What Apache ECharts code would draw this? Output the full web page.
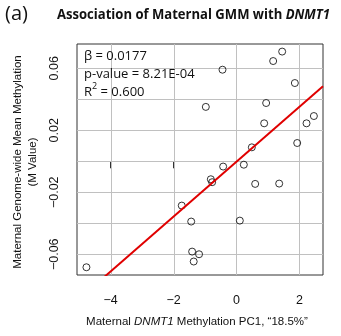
<!DOCTYPE html>
<html>
<head>
<meta charset="utf-8">
<script src="https://cdn.jsdelivr.net/npm/echarts@6/dist/echarts.min.js"></script>
<style>
  html, body { margin: 0; padding: 0; background: #fff; }
  #chart { width: 341px; height: 336px; }
</style>
</head>
<body>
<div id="chart"></div>
<script>
// Maternal DNMT1 methylation PC1 scores (x) and genome-wide mean methylation M values (y)
const pc1Scores = [-4.77, -1.74, -1.44, -1.41, -1.36, -1.19, -0.975, -0.816, -0.774, -0.445, -0.424,
  0.106, 0.233, 0.488, 0.594, 0.88, 0.943, 1.166, 1.357, 1.452, 1.855, 1.93, 2.226, 2.46];
const gmmValues = [-0.0684, -0.0286, -0.0389, -0.0583, -0.0647, -0.0600, 0.0351, -0.0116, -0.0135, 0.0591, -0.0034,
  -0.0383, -0.0022, 0.0090, -0.0146, 0.0245, 0.0376, 0.0647, -0.0144, 0.0708, 0.0505, 0.0118, 0.0245, 0.0292];

// Regression fit
const beta = 0.0177;
const intercept = -0.0003;
const pValueText = '8.21E-04';
const rSquaredText = '0.600';

// Axis ticks and labels
const xTicks = [-4, -2, 0, 2];
const yTicks = [-0.06, -0.04, -0.02, 0, 0.02, 0.04, 0.06];
const yLabelTicks = [-0.06, -0.02, 0.02, 0.06];

const xRange = [-5.07, 2.75];
const yRange = [-0.0734, 0.0757];

const points = pc1Scores.map((x, i) => [x, gmmValues[i]]);
const fitLine = xRange.map(x => [x, intercept + beta * x]);

const fmtMinus = v => String(v).replace('-', '\u2212');

// Title is squeezed horizontally to a fixed width
const titleFont = 'bold 14px "Open Sans"';
const titleItalicFont = 'italic bold 14px "Open Sans"';
const ctx = document.createElement('canvas').getContext('2d');
ctx.font = titleFont;
let titleW = ctx.measureText('Association of Maternal GMM with ').width;
ctx.font = titleItalicFont;
titleW += ctx.measureText('DNMT1').width;
const titleScale = 273 / titleW;

const gridColor = '#c0c0c0';

const chart = echarts.init(document.getElementById('chart'), null, { renderer: 'canvas' });

chart.setOption({
  animation: false,
  grid: { left: 77, right: 18, top: 44, bottom: 61, show: true, borderColor: '#333', borderWidth: 1 },
  xAxis: {
    type: 'value', min: xRange[0], max: xRange[1],
    axisLine: { show: false },
    axisTick: { show: true, length: 7, inside: false, customValues: xTicks, lineStyle: { color: '#333' } },
    axisLabel: { customValues: xTicks, margin: 19, fontFamily: 'Liberation Sans', fontSize: 12.5, color: '#111', formatter: fmtMinus },
    splitLine: { show: false }
  },
  yAxis: {
    type: 'value', min: yRange[0], max: yRange[1],
    axisLine: { show: false },
    axisTick: { show: true, length: 7, inside: false, customValues: yTicks, lineStyle: { color: '#333' } },
    axisLabel: { customValues: yLabelTicks, rotate: 90, margin: 16, align: 'center', verticalAlign: 'bottom',
      fontFamily: 'Liberation Sans', fontSize: 12.5, color: '#111', formatter: v => fmtMinus(v.toFixed(2)) },
    splitLine: { show: false }
  },
  series: [
    {
      type: 'scatter', data: points, symbol: 'circle', symbolSize: 7,
      itemStyle: { color: 'transparent', borderColor: '#000', borderWidth: 1 },
      z: 3
    },
    {
      type: 'line', data: fitLine, symbol: 'none', clip: true,
      lineStyle: { color: '#e00000', width: 2 }, z: 4
    }
  ]
});

// light reference grid at every tick, positioned through the axis scales
const gridLines = [];
xTicks.forEach(v => {
  const a = chart.convertToPixel({ gridIndex: 0 }, [v, yRange[0]]);
  const b = chart.convertToPixel({ gridIndex: 0 }, [v, yRange[1]]);
  const px = Math.round(a[0]) + 0.5;
  gridLines.push({ type: 'line', z: 1, silent: true,
    shape: { x1: px, y1: a[1], x2: px, y2: b[1] },
    style: { stroke: gridColor, lineWidth: 1 } });
});
yTicks.forEach(v => {
  const a = chart.convertToPixel({ gridIndex: 0 }, [xRange[0], v]);
  const b = chart.convertToPixel({ gridIndex: 0 }, [xRange[1], v]);
  const py = Math.round(a[1]) + 0.5;
  gridLines.push({ type: 'line', z: 1, silent: true,
    shape: { x1: a[0], y1: py, x2: b[0], y2: py },
    style: { stroke: gridColor, lineWidth: 1 } });
});

const texts = [
  { type: 'text', left: 5, top: 4, style: { text: '(a)', font: '20px "Open Sans"', fill: '#111' } },
  { type: 'text', x: 57, y: 15, scaleX: titleScale, style: {
      text: '{b|Association of Maternal GMM with }{bi|DNMT1}',
      textVerticalAlign: 'middle',
      rich: {
        b: { font: titleFont, fill: '#111' },
        bi: { font: titleItalicFont, fill: '#111' }
      } } },
  { type: 'text', left: 84, top: 47, z: 10, style: {
      text: '\u03B2 = ' + beta + '\np-value = ' + pValueText,
      font: '13px "Open Sans"', fill: '#111', lineHeight: 18 } },
  { type: 'text', left: 84, top: 82, z: 10, style: {
      text: '{r|R}{s|2}{r| = ' + rSquaredText + '}',
      rich: {
        r: { font: '13px "Open Sans"', fill: '#111', verticalAlign: 'bottom' },
        s: { font: '9px "Open Sans"', fill: '#111', verticalAlign: 'top', padding: [0, 0, 8, 0] }
      } } },
  { type: 'text', x: 18, y: 162, rotation: Math.PI / 2, style: {
      text: 'Maternal Genome-wide Mean Methylation', font: '11.5px "Liberation Sans"', fill: '#111',
      textAlign: 'center', textVerticalAlign: 'middle' } },
  { type: 'text', x: 33, y: 162, rotation: Math.PI / 2, style: {
      text: '(M Value)', font: '11.5px "Liberation Sans"', fill: '#111',
      textAlign: 'center', textVerticalAlign: 'middle' } },
  { type: 'text', x: 197, y: 322, style: {
      text: '{n|Maternal }{i|DNMT1}{n| Methylation PC1, \u201C18.5%\u201D}',
      textAlign: 'center', textVerticalAlign: 'middle',
      rich: {
        n: { font: '11.5px "Liberation Sans"', fill: '#111' },
        i: { font: 'italic 11.5px "Liberation Sans"', fill: '#111' }
      } } }
];

chart.setOption({ graphic: { elements: gridLines.concat(texts) } });
</script>
</body>
</html>
